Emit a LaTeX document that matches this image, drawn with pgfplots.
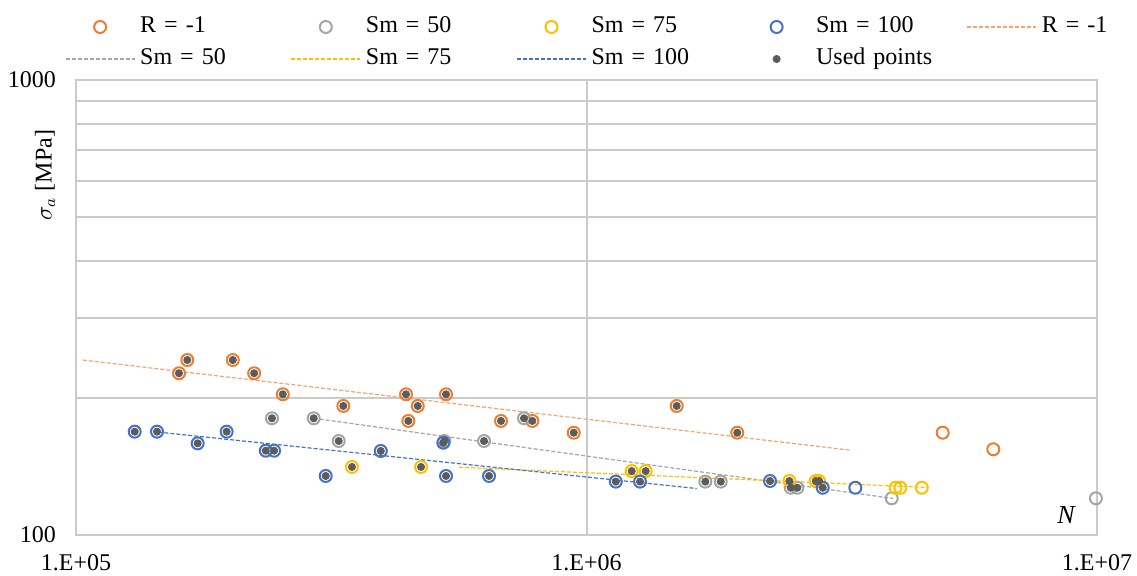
\documentclass[border=0pt]{standalone}
\usepackage{fontspec}
\setmainfont{Liberation Serif}
\usepackage{pgfplots}
\pgfplotsset{compat=1.18}

\definecolor{cOrange}{HTML}{ED7D31}
\definecolor{cGray}{HTML}{A5A5A5}
\definecolor{cYellow}{HTML}{FFC000}
\definecolor{cBlue}{HTML}{4472C4}
\definecolor{cDot}{HTML}{5C5C5C}
\definecolor{cGrid}{HTML}{CBCBCB}

\newcommand{\chartfont}{\fontsize{12}{14}\selectfont}

\begin{document}
\begin{tikzpicture}
\useasboundingbox (0,0) rectangle (568.5pt,288pt);
\begin{axis}[
  at={(38pt,20.5pt)}, anchor=south west,
  scale only axis, width=510.5pt, height=227.5pt,
  xmode=log, ymode=log,
  xmin=1e5, xmax=1e7, ymin=100, ymax=1000,
  xtick={1e5,1e6,1e7}, xticklabels={1.E+05,1.E+06,1.E+07},
  ytick={100,1000}, yticklabels={100,1000},
  minor ytick={200,300,400,500,600,700,800,900},
  minor xtick={},
  ymajorgrids, yminorgrids, xmajorgrids,
  grid style={cGrid, line width=1pt},
  minor grid style={cGrid, line width=1pt},
  axis line style={cGrid, line width=1pt},
  major tick length=0pt, minor tick length=0pt,
  tick style={draw=none},
  xticklabel style={font=\chartfont, yshift=-6pt},
  yticklabel style={font=\chartfont, xshift=-6.5pt},
  ylabel={$\sigma_a$ [MPa]},
  ylabel style={at={(axis description cs:-0.0304,0.791)}, anchor=center, font=\chartfont},
  clip=false,
  legend columns=5,
  legend cell align=left,
  legend image code/.code={%
    \pgfpathrectangle{\pgfpoint{0pt}{-3pt}}{\pgfpoint{34.5pt}{6pt}}\pgfusepath{discard}%
    \draw[mark repeat=2,mark phase=2,#1] plot coordinates {(0pt,0pt)(17.25pt,0pt)(34.5pt,0pt)};},
  legend style={
    at={(axis description cs:-0.01077,1.1516)}, anchor=north west,
    draw=none, fill=none, inner sep=0pt, outer sep=0pt,
    font=\chartfont,
    nodes={inner xsep=2.5pt, inner ysep=2pt, text height=9pt, text depth=3pt,
           text width=69pt, align=left},
    /tikz/every even column/.append style={column sep=3.75pt},
  },
  circ/.style={only marks, mark=o, mark size=3pt,
               mark options={draw=#1, line width=1pt}},
  trend/.style={#1, line width=0.6pt, dash pattern=on 2pt off 1pt},
]

% measured series: open circles
\addplot[circ=cOrange]
  table {
  x        y
  165200   242.4
  202800   242.4
  159100   226.7
  223300   226.7
  254100   203.8
  333900   192.1
  443000   203.8
  530600   203.8
  467100   192.1
  447700   178.1
  680000   178.1
  783300   178.1
  944000   167.8
  1502000  192.1
  1974000  167.8
  4985000  167.8
  6264000  154.3
  };
\addlegendentry{R = -1}

\addplot[circ=cGray]
  table {
  x        y
  242000   180.5
  292100   180.5
  327000   160.9
  526600   160.9
  629900   160.9
  754300   180.5
  1709000  131.0
  1832000  131.0
  2512000  127.0
  2588000  127.0
  3961000  120.4
  9950000  120.4
  };
\addlegendentry{Sm = 50}

\addplot[circ=cYellow]
  table {
  x        y
  347200   141.1
  474100   141.1
  1226000  138.2
  1306000  138.2
  2497000  131.4
  2812000  131.4
  2854000  131.4
  4030000  127.0
  4120000  127.0
  4537000  127.0
  };
\addlegendentry{Sm = 75}

\addplot[circ=cBlue]
  table {
  x        y
  130300   168.7
  144100   168.7
  173100   159.0
  197300   168.7
  235300   153.2
  244300   153.2
  308400   134.8
  395400   153.0
  524200   159.5
  530600   134.8
  644200   134.8
  1141000  131.0
  1273000  131.0
  2288000  131.4
  2902000  127.0
  3362000  127.0
  };
\addlegendentry{Sm = 100}

% power-law trend lines (straight on log-log axes)
\addplot[trend=cOrange!70]
  coordinates {(103100,242.4) (3272000,153.7)};
\addlegendentry{R = -1}
\addplot[trend=cGray]
  coordinates {(292100,180.5) (3985000,120.3)};
\addlegendentry{Sm = 50}
\addplot[trend=cYellow]
  coordinates {(562700,140.9) (4667000,127.2)};
\addlegendentry{Sm = 75}
\addplot[trend=cBlue]
  coordinates {(145000,168.3) (1644000,126.5)};
\addlegendentry{Sm = 100}

% points used for the fits
\addplot[only marks, mark=*, mark size=1.8pt, color=cDot]
  table {
  x        y
  165200   242.4
  202800   242.4
  159100   226.7
  223300   226.7
  254100   203.8
  333900   192.1
  443000   203.8
  530600   203.8
  467100   192.1
  447700   178.1
  680000   178.1
  783300   178.1
  944000   167.8
  1502000  192.1
  1974000  167.8
  242000   180.5
  292100   180.5
  327000   160.9
  526600   160.9
  629900   160.9
  754300   180.5
  1709000  131.0
  1832000  131.0
  2512000  127.0
  2588000  127.0
  347200   141.1
  474100   141.1
  1226000  138.2
  1306000  138.2
  2497000  131.4
  2812000  131.4
  2854000  131.4
  130300   168.7
  144100   168.7
  173100   159.0
  197300   168.7
  235300   153.2
  244300   153.2
  308400   134.8
  395400   153.0
  524200   159.5
  530600   134.8
  644200   134.8
  1141000  131.0
  1273000  131.0
  2288000  131.4
  2902000  127.0
  };
\addlegendentry{Used points}

\node[font=\itshape\fontsize{13}{15}\selectfont] at (axis description cs:0.9696,0.0429) {N};
\end{axis}
\end{tikzpicture}
\end{document}
